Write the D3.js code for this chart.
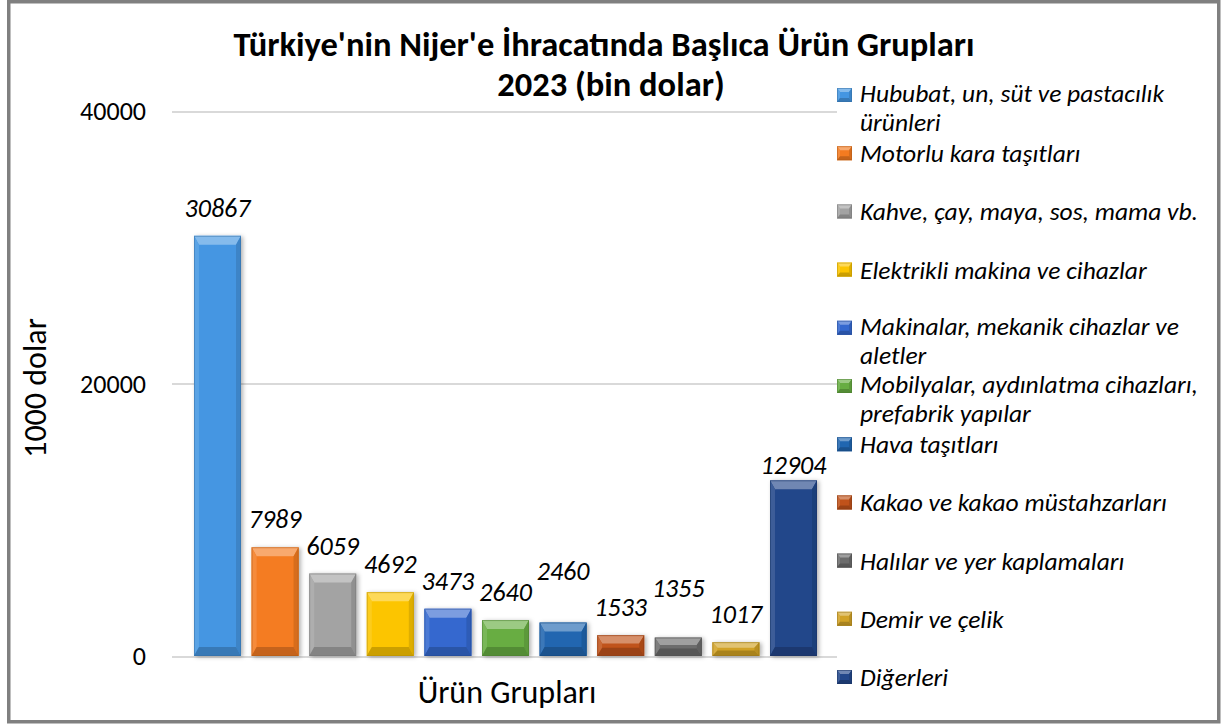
<!DOCTYPE html>
<meta charset="utf-8">
<style>
    body {
        margin: 0;
        background: #fff;
    }

    svg {
        font-family: Carlito, Calibri, Lato, sans-serif;
    }

    .grid line {
        stroke: #d9d9d9;
        stroke-width: 2;
        shape-rendering: crispEdges;
    }
</style>
<body>
<script src="https://d3js.org/d3.v7.min.js"></script>
<script>
    // data
    const categories = [
        'Hububat, un, süt ve pastacılık ürünleri',
        'Motorlu kara taşıtları',
        'Kahve, çay, maya, sos, mama vb.',
        'Elektrikli makina ve cihazlar',
        'Makinalar, mekanik cihazlar ve aletler',
        'Mobilyalar, aydınlatma cihazları, prefabrik yapılar',
        'Hava taşıtları',
        'Kakao ve kakao müstahzarları',
        'Halılar ve yer kaplamaları',
        'Demir ve çelik',
        'Diğerleri'
    ];
    const values = [30867, 7989, 6059, 4692, 3473, 2640, 2460, 1533, 1355, 1017, 12904];
    const colors = ['#4496e2', '#f47b20', '#a3a3a3', '#fcc500', '#3468cf', '#67ad42',
        '#2066b0', '#c0521a', '#6c6c6c', '#d1a226', '#23478a'];
    // labels that were dragged by hand in the original
    const labelShift = [0, 0, 0, 0, 0, 0, -24, 0, -22, 0, 13];
    const yTicks = [0, 20000, 40000];

    const width = 1223;
    const height = 724;

    const svg = d3.select('body')
        .append('svg')
        .attr('width', width)
        .attr('height', height);

    const defs = svg.append('defs');
    const shadow = defs.append('filter')
        .attr('id', 'shadow')
        .attr('x', '-20%').attr('y', '-20%')
        .attr('width', '150%').attr('height', '150%');
    shadow.append('feDropShadow')
        .attr('dx', 2).attr('dy', 1)
        .attr('stdDeviation', 2)
        .attr('flood-color', '#000')
        .attr('flood-opacity', 0.3);

    // outer frame
    svg.append('rect')
        .attr('x', 8.75).attr('y', 1.75)
        .attr('width', 1210).attr('height', 720)
        .attr('fill', '#fff')
        .attr('stroke', '#808080')
        .attr('stroke-width', 3.5);

    const x = d3.scaleBand()
        .domain(categories)
        .range([188.7, 822.3])
        .paddingInner(0.184)
        .paddingOuter(0.092);

    const y = d3.scaleLinear()
        .domain([0, 40000])
        .range([656, 111.5]);

    // gridlines + tick labels
    const yAxis = d3.axisLeft(y)
        .tickValues(yTicks)
        .tickSize(-(837 - 172))
        .tickPadding(26)
        .tickFormat(d3.format('d'));

    const gAxis = svg.append('g')
        .attr('class', 'grid')
        .attr('transform', 'translate(172,0)')
        .call(yAxis);
    gAxis.select('.domain').remove();
    gAxis.selectAll('text')
        .attr('fill', '#000')
        .style('font-size', '26px')
        .style('font-family', 'Carlito, Calibri, Lato, sans-serif');

    // beveled box, like the excel "cool slant" effect
    function bevelBox(g, x0, y0, w, h, c, bx, by) {
        const x1 = x0 + w, y1 = y0 + h;
        const base = d3.color(c);
        const light = d3.interpolateRgb(c, '#fff');
        g.append('rect')
            .attr('x', x0).attr('y', y0)
            .attr('width', w).attr('height', h)
            .attr('fill', c);
        const faces = [
            {pts: [[x0, y0], [x1, y0], [x1 - bx, y0 + by], [x0 + bx, y0 + by]], fill: light(0.35)},
            {pts: [[x0, y0], [x0 + bx, y0 + by], [x0 + bx, y1 - by], [x0, y1]], fill: light(0.12)},
            {pts: [[x1, y0], [x1 - bx, y0 + by], [x1 - bx, y1 - by], [x1, y1]], fill: base.darker(0.35)},
            {pts: [[x0, y1], [x1, y1], [x1 - bx, y1 - by], [x0 + bx, y1 - by]], fill: base.darker(0.6)}
        ];
        faces.forEach(f => {
            g.append('path')
                .attr('d', 'M' + f.pts.join('L') + 'Z')
                .attr('fill', f.fill);
        });
        g.append('rect')
            .attr('x', x0 + 0.5).attr('y', y0 + 0.5)
            .attr('width', w - 1).attr('height', h - 1)
            .attr('fill', 'none')
            .attr('stroke', base.darker(0.9))
            .attr('stroke-opacity', 0.5);
    }

    // bars
    const bars = svg.append('g').attr('class', 'bars');
    categories.forEach((cat, i) => {
        const top = y(values[i]);
        const h = y(0) - top;
        const g = bars.append('g').attr('filter', 'url(#shadow)');
        bevelBox(g, x(cat), top, x.bandwidth(), h, colors[i],
            Math.min(5, h * 0.4), Math.min(9, h * 0.4));
    });

    // value labels
    svg.append('g')
        .selectAll('text')
        .data(values)
        .enter().append('text')
        .attr('x', (d, i) => x(categories[i]) + x.bandwidth() / 2)
        .attr('y', (d, i) => y(d) - 28 + labelShift[i])
        .attr('dy', '0.35em')
        .attr('text-anchor', 'middle')
        .style('font-size', '26px')
        .style('font-style', 'italic')
        .text(d => d);

    // title
    const title = svg.append('text')
        .attr('text-anchor', 'middle')
        .style('font-size', '34.5px')
        .style('font-weight', 'bold');
    title.append('tspan').attr('x', 604).attr('y', 56)
        .text("Türkiye'nin Nijer'e İhracatında Başlıca Ürün Grupları");
    title.append('tspan').attr('x', 611).attr('y', 96)
        .text('2023 (bin dolar)');

    // axis titles
    svg.append('text')
        .attr('transform', 'translate(35,388) rotate(-90)')
        .attr('text-anchor', 'middle')
        .attr('dy', '0.35em')
        .style('font-size', '32px')
        .text('1000 dolar');

    svg.append('text')
        .attr('x', 507)
        .attr('y', 703)
        .attr('text-anchor', 'middle')
        .style('font-size', '32px')
        .text('Ürün Grupları');

    // legend
    const legend = svg.append('g').attr('class', 'legend');
    categories.forEach((cat, i) => {
        const yc = 95 + 58.2 * i;
        const item = legend.append('g');
        bevelBox(item, 837, yc - 7, 15, 14, colors[i], 3, 4);
        const t = item.append('text')
            .attr('x', 860)
            .attr('y', yc + 9)
            .style('font-size', '25.5px')
            .style('font-style', 'italic');
        // wrap long names onto a second line
        const words = cat.split(' ');
        let line = [];
        let tspan = t.append('tspan').attr('x', 860);
        let wrapped = false;
        words.forEach(w => {
            line.push(w);
            tspan.text(line.join(' '));
            if (tspan.node().getComputedTextLength() > 352 && line.length > 1) {
                line.pop();
                tspan.text(line.join(' '));
                line = [w];
                wrapped = true;
                tspan = t.append('tspan').attr('x', 860).attr('dy', 29).text(w);
            }
        });
        if (wrapped) t.attr('y', yc + 7);
    });
</script>
</body>
</html>
